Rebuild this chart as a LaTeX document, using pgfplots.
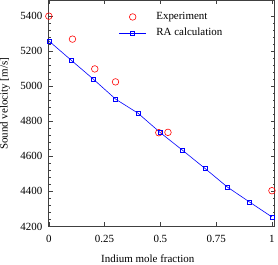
\documentclass[border=0pt]{standalone}
\usepackage{fontspec}
\setmainfont{Liberation Serif}
\usepackage{pgfplots}
\pgfplotsset{compat=1.18}
\begin{document}
\begin{tikzpicture}
\begin{axis}[
  scale only axis, width=226bp, height=226bp,
  xmin=0, xmax=1.013, ymin=4200, ymax=5490,
  xtick={0,0.25,0.5,0.75,1}, xticklabels={0,0.25,0.5,0.75,1},
  ytick={4200,4400,4600,4800,5000,5200,5400},
  minor y tick num=4,
  tick align=inside, major tick length=4bp, minor tick length=2bp,
  axis line style={line width=0.8pt, black!75},
  every tick/.style={black!75, line width=0.5pt},
  /pgf/number format/assume math mode=true,
  /pgf/number format/1000 sep={},
  tick label style={font=\fontsize{11}{13}\selectfont},
  xticklabel style={yshift=-5.5bp},
  yticklabel style={xshift=-3bp},
  label style={font=\fontsize{11}{13}\selectfont, inner sep=0pt},
  xlabel={Indium mole fraction}, ylabel={Sound velocity [m/s]},
  xlabel style={at={([yshift=-36bp]axis description cs:0.438,0)}, anchor=base, inner ysep=1.5bp},
  ylabel style={at={([xshift=-49bp]axis description cs:0,0.542)}, anchor=north},
  clip=false,
  legend style={draw=none, fill=none, at={(0.31,0.947)}, anchor=north west,
    font=\fontsize{11}{13}\selectfont, inner sep=0pt, row sep=7bp, column sep=10bp,
    nodes={inner sep=0pt}},
  legend cell align=left,
  legend image code/.code={\draw[mark repeat=2,mark phase=2] plot coordinates {(0cm,0cm)(0.47cm,0cm)(0.94cm,0cm)};},
]
\addplot[only marks, mark=o, red, mark size=3.3bp, line width=0.6pt] coordinates {
(0.0,5400) (0.106,5269) (0.206,5099) (0.299,5025) (0.493,4735) (0.534,4737) (1.0,4404)
};
\addlegendentry{Experiment}
\addplot[blue, line width=0.6pt, mark=square, mark size=2bp, mark options={line width=0.6pt}] coordinates {
(0.0,5259) (0.1,5149) (0.2,5040) (0.3,4926) (0.4,4846) (0.5,4735) (0.6,4634) (0.7,4531) (0.8,4425) (0.9,4339) (1.0,4254)
};
\addlegendentry{RA calculation}
\end{axis}
\end{tikzpicture}
\end{document}
